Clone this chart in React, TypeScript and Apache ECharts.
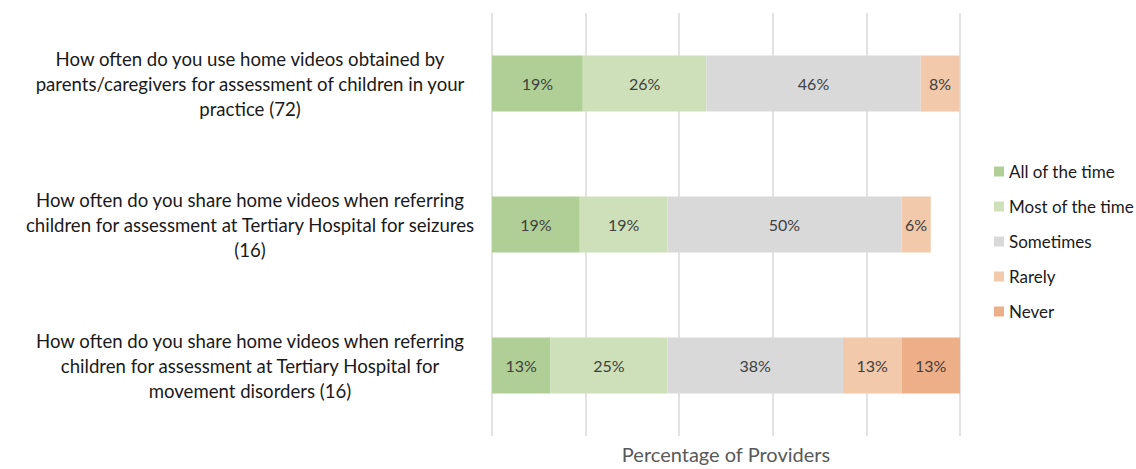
import React, { useEffect, useRef } from "react";
import * as echarts from "echarts";

const categories = [
  "How often do you use home videos obtained by\nparents/caregivers for assessment of children in your\npractice (72)",
  "How often do you share home videos when referring\nchildren for assessment at Tertiary Hospital for seizures\n(16)",
  "How often do you share home videos when referring\nchildren for assessment at Tertiary Hospital for\nmovement disorders (16)",
];
const seriesNames = ["All of the time", "Most of the time", "Sometimes", "Rarely", "Never"];
const allOfTheTime = [19.4, 18.75, 12.5];
const mostOfTheTime = [26.4, 18.75, 25];
const sometimes = [45.8, 50, 37.5];
const rarely = [8.3, 6.25, 12.5];
const never = [0, 0, 12.5];
const colors = ["#B0CF96", "#CDE0B9", "#D9D9D9", "#F2C9AA", "#EDAF88"];

export default function App() {
  const ref = useRef<HTMLDivElement>(null);
  useEffect(() => {
    if (!ref.current) return;
    const chart = echarts.init(ref.current, null, { renderer: "svg" });
    const values = [allOfTheTime, mostOfTheTime, sometimes, rarely, never];
    const font = "Lato, 'Open Sans', sans-serif";
    chart.setOption({
      animation: false,
      textStyle: { fontFamily: font },
      grid: { left: 492, right: 176, top: 13, bottom: 29 },
      legend: {
        orient: "vertical",
        left: 989,
        top: 157,
        icon: "rect",
        itemWidth: 10,
        itemHeight: 10,
        itemGap: 16,
        textStyle: { fontSize: 17, color: "#1a1a1a", fontFamily: font, lineHeight: 19 },
        data: seriesNames,
      },
      xAxis: {
        type: "value",
        min: 0,
        max: 100,
        interval: 20,
        axisLabel: { show: false },
        axisLine: { show: false },
        axisTick: { show: false },
        splitLine: { lineStyle: { color: "#d9d9d9", width: 1.5 } },
        name: "Percentage of Providers",
        nameLocation: "middle",
        nameGap: 8,
        nameTextStyle: { fontSize: 20, color: "#595959", fontFamily: font, verticalAlign: "top" },
      },
      yAxis: {
        type: "category",
        inverse: true,
        data: categories,
        axisLine: { show: false },
        axisTick: { show: false },
        axisLabel: {
          margin: 242,
          align: "center",
          fontSize: 18.6,
          lineHeight: 25,
          color: "#1a1a1a",
          fontFamily: font,
          padding: [0, 0, 5, 0],
        },
      },
      series: seriesNames.map((name, i) => ({
        name,
        type: "bar",
        stack: "total",
        barWidth: 56,
        data: values[i],
        itemStyle: { color: colors[i] },
        label: {
          show: true,
          position: "inside",
          fontSize: 16,
          color: "#404040",
          fontFamily: font,
          formatter: (p: any) => (p.value > 0 ? Math.round(p.value) + "%" : ""),
        },
      })),
    });
    return () => chart.dispose();
  }, []);
  return <div ref={ref} style={{ width: 1136, height: 469, position: "absolute", left: 0, top: 0 }} />;
}
